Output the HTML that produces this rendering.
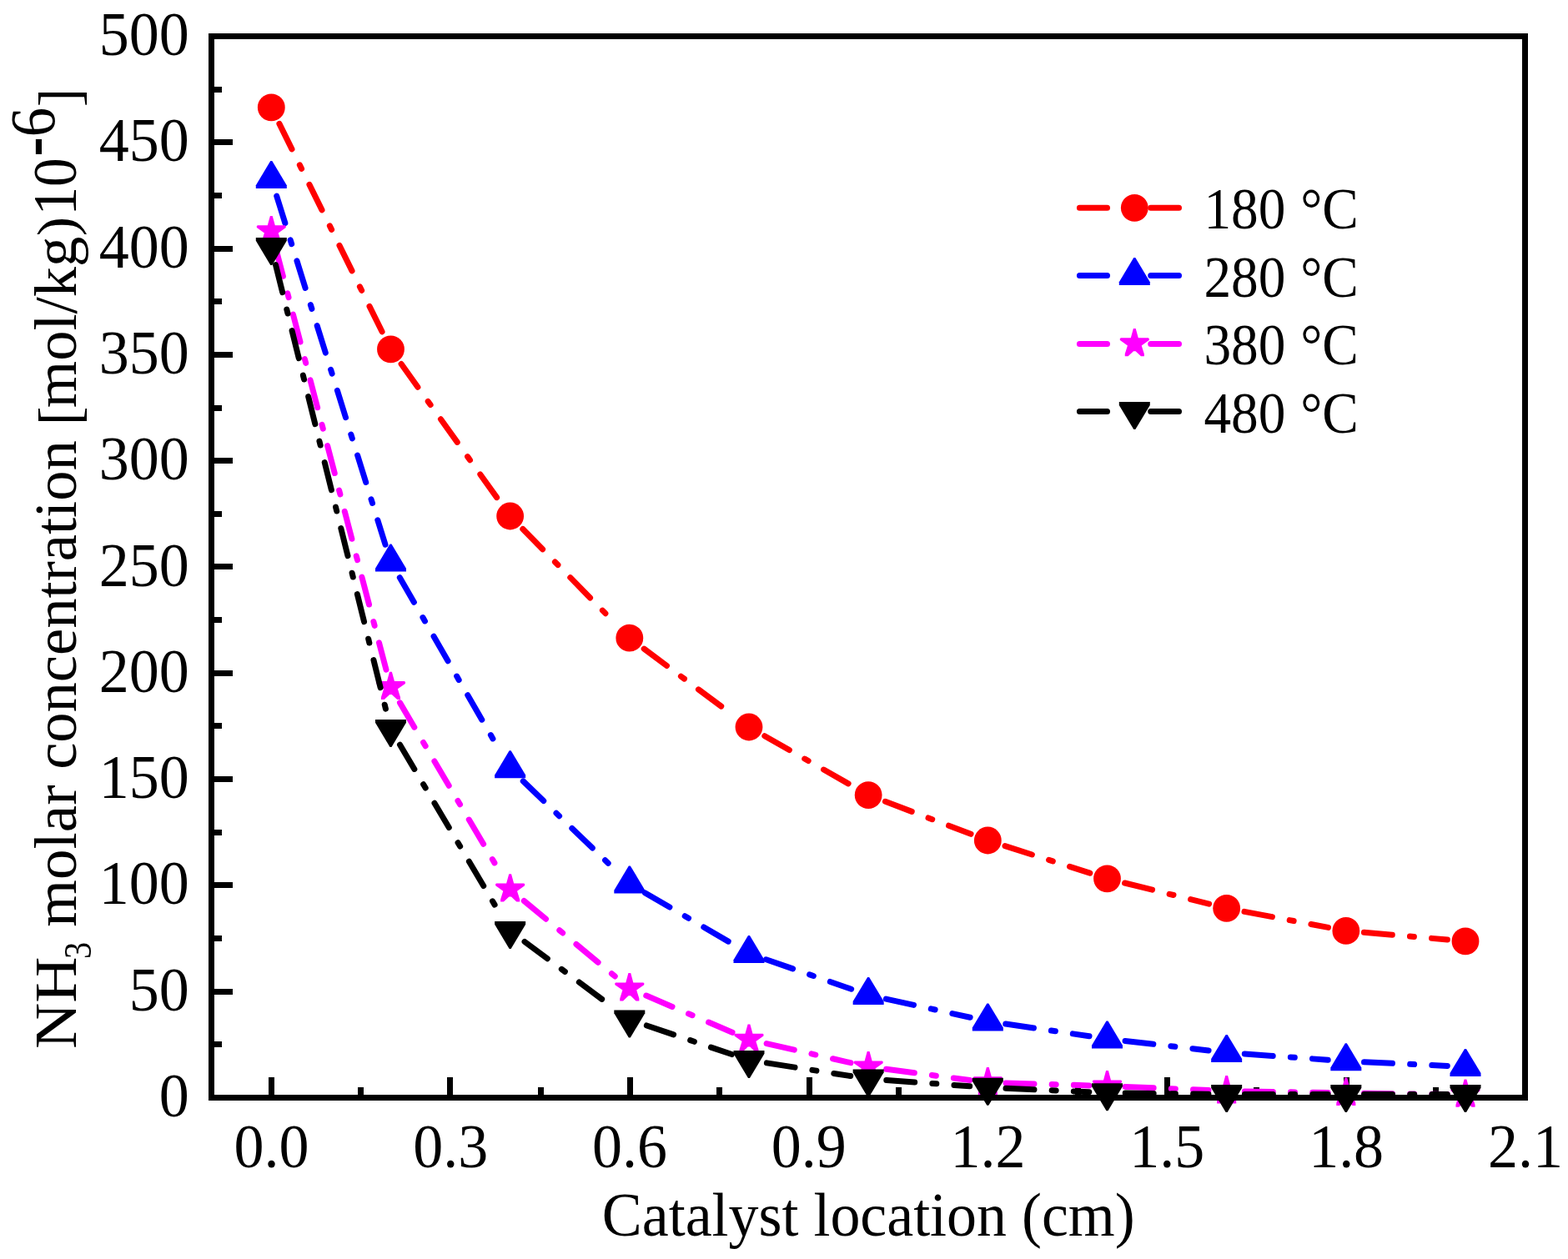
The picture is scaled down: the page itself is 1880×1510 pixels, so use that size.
<!DOCTYPE html>
<html lang="en"><head><meta charset="utf-8"><title>NH3 molar concentration vs catalyst location</title>
<style>
html,body{margin:0;padding:0;background:#fff;}
body{width:1880px;height:1510px;overflow:hidden;}
svg{display:block;}
text{font-family:"Liberation Serif","Times New Roman",serif;fill:#000;font-kerning:none;white-space:pre;}
.ln{fill:none;stroke-width:7;stroke-linecap:round;stroke-dasharray:34 21.2 5 21.2;}
.ax{stroke:#000;stroke-width:7;fill:none;shape-rendering:crispEdges;}
</style></head><body>
<svg width="1880" height="1510" viewBox="0 0 1880 1510">
<rect width="1880" height="1510" fill="#fff"/>

<path class="ax" d="M253.5 1252.5h12.5M253.5 1189.5h25.5M253.5 1125.5h12.5M253.5 1061.5h25.5M253.5 998.5h12.5M253.5 934.5h25.5M253.5 870.5h12.5M253.5 807.5h25.5M253.5 743.5h12.5M253.5 679.5h25.5M253.5 616.5h12.5M253.5 552.5h25.5M253.5 489.5h12.5M253.5 425.5h25.5M253.5 361.5h12.5M253.5 298.5h25.5M253.5 234.5h12.5M253.5 170.5h25.5M253.5 107.5h12.5M325.5 1316.5v-24.5M432.5 1316.5v-12.5M539.5 1316.5v-24.5M648.5 1316.5v-12.5M755.5 1316.5v-24.5M862.5 1316.5v-12.5M970.5 1316.5v-24.5M1077.5 1316.5v-12.5M1184.5 1316.5v-24.5M1292.5 1316.5v-12.5M1399.5 1316.5v-24.5M1506.5 1316.5v-12.5M1614.5 1316.5v-24.5M1721.5 1316.5v-12.5"/>
<g>
<line class="ln" stroke="#ff0000" x1="334.91" y1="148.36" x2="458.86" y2="399.44"/>
<line class="ln" stroke="#ff0000" x1="481.1" y1="436.55" x2="599.01" y2="601.35"/>
<line class="ln" stroke="#ff0000" x1="626.82" y1="634.5" x2="739.63" y2="749.7"/>
<line class="ln" stroke="#ff0000" x1="772.2" y1="778.18" x2="880.59" y2="859.02"/>
<line class="ln" stroke="#ff0000" x1="916.83" y1="882.75" x2="1022.3" y2="942.85"/>
<line class="ln" stroke="#ff0000" x1="1061.44" y1="961.31" x2="1164.03" y2="1000.29"/>
<line class="ln" stroke="#ff0000" x1="1204.99" y1="1014.61" x2="1306.82" y2="1047.19"/>
<line class="ln" stroke="#ff0000" x1="1348.55" y1="1059.02" x2="1449.6" y2="1084.08"/>
<line class="ln" stroke="#ff0000" x1="1491.98" y1="1093.34" x2="1592.51" y2="1112.36"/>
<line class="ln" stroke="#ff0000" x1="1635.45" y1="1118.29" x2="1735.38" y2="1127.01"/>
<circle cx="325.3" cy="128.9" r="16.4" fill="#ff0000"/>
<circle cx="468.47" cy="418.9" r="16.4" fill="#ff0000"/>
<circle cx="611.64" cy="619" r="16.4" fill="#ff0000"/>
<circle cx="754.81" cy="765.2" r="16.4" fill="#ff0000"/>
<circle cx="897.98" cy="872" r="16.4" fill="#ff0000"/>
<circle cx="1041.15" cy="953.6" r="16.4" fill="#ff0000"/>
<circle cx="1184.32" cy="1008" r="16.4" fill="#ff0000"/>
<circle cx="1327.49" cy="1053.8" r="16.4" fill="#ff0000"/>
<circle cx="1470.66" cy="1089.3" r="16.4" fill="#ff0000"/>
<circle cx="1613.83" cy="1116.4" r="16.4" fill="#ff0000"/>
<circle cx="1757" cy="1128.9" r="16.4" fill="#ff0000"/>
</g>
<g>
<line class="ln" stroke="#0000ff" x1="331.75" y1="235.17" x2="462.02" y2="653.28"/>
<line class="ln" stroke="#0000ff" x1="479.33" y1="692.79" x2="600.78" y2="903.01"/>
<line class="ln" stroke="#0000ff" x1="627.26" y1="936.87" x2="739.19" y2="1044.88"/>
<line class="ln" stroke="#0000ff" x1="773.55" y1="1070.9" x2="879.24" y2="1132.65"/>
<line class="ln" stroke="#0000ff" x1="918.48" y1="1150.73" x2="1020.65" y2="1186.27"/>
<line class="ln" stroke="#0000ff" x1="1062.34" y1="1198.06" x2="1163.13" y2="1220.24"/>
<line class="ln" stroke="#0000ff" x1="1205.79" y1="1228.06" x2="1306.02" y2="1242.79"/>
<line class="ln" stroke="#0000ff" x1="1349.05" y1="1248.43" x2="1449.1" y2="1259.92"/>
<line class="ln" stroke="#0000ff" x1="1492.3" y1="1263.97" x2="1592.19" y2="1271.23"/>
<line class="ln" stroke="#0000ff" x1="1635.51" y1="1273.8" x2="1735.32" y2="1278.4"/>
<polygon points="324.3,192.95 326.3,192.95 343.8,222.15 343.8,225.95 306.8,225.95 306.8,222.15" fill="#0000ff"/>
<polygon points="467.47,652.5 469.47,652.5 486.97,681.7 486.97,685.5 449.97,685.5 449.97,681.7" fill="#0000ff"/>
<polygon points="610.64,900.3 612.64,900.3 630.14,929.5 630.14,933.3 593.14,933.3 593.14,929.5" fill="#0000ff"/>
<polygon points="753.81,1038.45 755.81,1038.45 773.31,1067.65 773.31,1071.45 736.31,1071.45 736.31,1067.65" fill="#0000ff"/>
<polygon points="896.98,1122.1 898.98,1122.1 916.48,1151.3 916.48,1155.1 879.48,1155.1 879.48,1151.3" fill="#0000ff"/>
<polygon points="1040.15,1171.9 1042.15,1171.9 1059.65,1201.1 1059.65,1204.9 1022.65,1204.9 1022.65,1201.1" fill="#0000ff"/>
<polygon points="1183.32,1203.4 1185.32,1203.4 1202.82,1232.6 1202.82,1236.4 1165.82,1236.4 1165.82,1232.6" fill="#0000ff"/>
<polygon points="1326.49,1224.45 1328.49,1224.45 1345.99,1253.65 1345.99,1257.45 1308.99,1257.45 1308.99,1253.65" fill="#0000ff"/>
<polygon points="1469.66,1240.9 1471.66,1240.9 1489.16,1270.1 1489.16,1273.9 1452.16,1273.9 1452.16,1270.1" fill="#0000ff"/>
<polygon points="1612.83,1251.3 1614.83,1251.3 1632.33,1280.5 1632.33,1284.3 1595.33,1284.3 1595.33,1280.5" fill="#0000ff"/>
<polygon points="1756,1257.9 1758,1257.9 1775.5,1287.1 1775.5,1290.9 1738.5,1290.9 1738.5,1287.1" fill="#0000ff"/>
</g>
<g>
<line class="ln" stroke="#ff00ff" x1="330.8" y1="298.39" x2="462.97" y2="803.21"/>
<line class="ln" stroke="#ff00ff" x1="479.51" y1="842.88" x2="600.6" y2="1047.92"/>
<line class="ln" stroke="#ff00ff" x1="628.33" y1="1080.46" x2="738.12" y2="1171.64"/>
<line class="ln" stroke="#ff00ff" x1="774.76" y1="1194.04" x2="878.03" y2="1238.26"/>
<line class="ln" stroke="#ff00ff" x1="919.14" y1="1251.63" x2="1019.99" y2="1274.67"/>
<line class="ln" stroke="#ff00ff" x1="1062.66" y1="1282.34" x2="1162.81" y2="1295.56"/>
<line class="ln" stroke="#ff00ff" x1="1206.01" y1="1299.02" x2="1305.8" y2="1301.88"/>
<line class="ln" stroke="#ff00ff" x1="1349.17" y1="1303.41" x2="1448.98" y2="1307.59"/>
<line class="ln" stroke="#ff00ff" x1="1492.36" y1="1308.88" x2="1592.13" y2="1310.62"/>
<line class="ln" stroke="#ff00ff" x1="1635.53" y1="1311.27" x2="1735.3" y2="1312.53"/>
<polygon points="326.7,259 329.8,270.3 341.9,270.3 342.9,271.4 342.7,273.1 333.7,279.5 336.85,289.5 336.85,292.3 333,292.3 326.6,286.2 324,286.2 317.6,292.3 313.75,292.3 313.75,289.5 316.9,279.5 307.9,273.1 307.7,271.4 308.7,270.3 320.8,270.3 323.9,259" fill="#ff00ff"/>
<polygon points="469.87,805.8 472.97,817.1 485.07,817.1 486.07,818.2 485.87,819.9 476.87,826.3 480.02,836.3 480.02,839.1 476.17,839.1 469.77,833 467.17,833 460.77,839.1 456.92,839.1 456.92,836.3 460.07,826.3 451.07,819.9 450.87,818.2 451.87,817.1 463.97,817.1 467.07,805.8" fill="#ff00ff"/>
<polygon points="613.04,1048.2 616.14,1059.5 628.24,1059.5 629.24,1060.6 629.04,1062.3 620.04,1068.7 623.19,1078.7 623.19,1081.5 619.34,1081.5 612.94,1075.4 610.34,1075.4 603.94,1081.5 600.09,1081.5 600.09,1078.7 603.24,1068.7 594.24,1062.3 594.04,1060.6 595.04,1059.5 607.14,1059.5 610.24,1048.2" fill="#ff00ff"/>
<polygon points="756.21,1167.1 759.31,1178.4 771.41,1178.4 772.41,1179.5 772.21,1181.2 763.21,1187.6 766.36,1197.6 766.36,1200.4 762.51,1200.4 756.11,1194.3 753.51,1194.3 747.11,1200.4 743.26,1200.4 743.26,1197.6 746.41,1187.6 737.41,1181.2 737.21,1179.5 738.21,1178.4 750.31,1178.4 753.41,1167.1" fill="#ff00ff"/>
<polygon points="899.38,1228.4 902.48,1239.7 914.58,1239.7 915.58,1240.8 915.38,1242.5 906.38,1248.9 909.53,1258.9 909.53,1261.7 905.68,1261.7 899.28,1255.6 896.68,1255.6 890.28,1261.7 886.43,1261.7 886.43,1258.9 889.58,1248.9 880.58,1242.5 880.38,1240.8 881.38,1239.7 893.48,1239.7 896.58,1228.4" fill="#ff00ff"/>
<polygon points="1042.55,1261.1 1045.65,1272.4 1057.75,1272.4 1058.75,1273.5 1058.55,1275.2 1049.55,1281.6 1052.7,1291.6 1052.7,1294.4 1048.85,1294.4 1042.45,1288.3 1039.85,1288.3 1033.45,1294.4 1029.6,1294.4 1029.6,1291.6 1032.75,1281.6 1023.75,1275.2 1023.55,1273.5 1024.55,1272.4 1036.65,1272.4 1039.75,1261.1" fill="#ff00ff"/>
<polygon points="1185.72,1280 1188.82,1291.3 1200.92,1291.3 1201.92,1292.4 1201.72,1294.1 1192.72,1300.5 1195.87,1310.5 1195.87,1313.3 1192.02,1313.3 1185.62,1307.2 1183.02,1307.2 1176.62,1313.3 1172.77,1313.3 1172.77,1310.5 1175.92,1300.5 1166.92,1294.1 1166.72,1292.4 1167.72,1291.3 1179.82,1291.3 1182.92,1280" fill="#ff00ff"/>
<polygon points="1328.89,1284.1 1331.99,1295.4 1344.09,1295.4 1345.09,1296.5 1344.89,1298.2 1335.89,1304.6 1339.04,1314.6 1339.04,1317.4 1335.19,1317.4 1328.79,1311.3 1326.19,1311.3 1319.79,1317.4 1315.94,1317.4 1315.94,1314.6 1319.09,1304.6 1310.09,1298.2 1309.89,1296.5 1310.89,1295.4 1322.99,1295.4 1326.09,1284.1" fill="#ff00ff"/>
<polygon points="1472.06,1290.1 1475.16,1301.4 1487.26,1301.4 1488.26,1302.5 1488.06,1304.2 1479.06,1310.6 1482.21,1320.6 1482.21,1323.4 1478.36,1323.4 1471.96,1317.3 1469.36,1317.3 1462.96,1323.4 1459.11,1323.4 1459.11,1320.6 1462.26,1310.6 1453.26,1304.2 1453.06,1302.5 1454.06,1301.4 1466.16,1301.4 1469.26,1290.1" fill="#ff00ff"/>
<polygon points="1615.23,1292.6 1618.33,1303.9 1630.43,1303.9 1631.43,1305 1631.23,1306.7 1622.23,1313.1 1625.38,1323.1 1625.38,1325.9 1621.53,1325.9 1615.13,1319.8 1612.53,1319.8 1606.13,1325.9 1602.28,1325.9 1602.28,1323.1 1605.43,1313.1 1596.43,1306.7 1596.23,1305 1597.23,1303.9 1609.33,1303.9 1612.43,1292.6" fill="#ff00ff"/>
<polygon points="1758.4,1294.4 1761.5,1305.7 1773.6,1305.7 1774.6,1306.8 1774.4,1308.5 1765.4,1314.9 1768.55,1324.9 1768.55,1327.7 1764.7,1327.7 1758.3,1321.6 1755.7,1321.6 1749.3,1327.7 1745.45,1327.7 1745.45,1324.9 1748.6,1314.9 1739.6,1308.5 1739.4,1306.8 1740.4,1305.7 1752.5,1305.7 1755.6,1294.4" fill="#ff00ff"/>
</g>
<g>
<line class="ln" stroke="#000000" x1="330.52" y1="317.56" x2="463.25" y2="853.44"/>
<line class="ln" stroke="#000000" x1="479.52" y1="893.18" x2="600.59" y2="1097.82"/>
<line class="ln" stroke="#000000" x1="629.05" y1="1129.45" x2="737.4" y2="1210.05"/>
<line class="ln" stroke="#000000" x1="775.36" y1="1229.96" x2="877.43" y2="1264.54"/>
<line class="ln" stroke="#000000" x1="919.42" y1="1274.85" x2="1019.71" y2="1290.55"/>
<line class="ln" stroke="#000000" x1="1062.79" y1="1295.48" x2="1162.68" y2="1302.77"/>
<line class="ln" stroke="#000000" x1="1206" y1="1305.3" x2="1305.81" y2="1309.7"/>
<line class="ln" stroke="#000000" x1="1349.19" y1="1310.94" x2="1448.96" y2="1312.26"/>
<line class="ln" stroke="#000000" x1="1492.36" y1="1312.55" x2="1592.13" y2="1312.55"/>
<line class="ln" stroke="#000000" x1="1635.53" y1="1312.55" x2="1735.3" y2="1312.55"/>
<polygon points="324.3,318 326.3,318 343.8,288.8 343.8,285 306.8,285 306.8,288.8" fill="#000000"/>
<polygon points="467.47,896 469.47,896 486.97,866.8 486.97,863 449.97,863 449.97,866.8" fill="#000000"/>
<polygon points="610.64,1138 612.64,1138 630.14,1108.8 630.14,1105 593.14,1105 593.14,1108.8" fill="#000000"/>
<polygon points="753.81,1244.5 755.81,1244.5 773.31,1215.3 773.31,1211.5 736.31,1211.5 736.31,1215.3" fill="#000000"/>
<polygon points="896.98,1293 898.98,1293 916.48,1263.8 916.48,1260 879.48,1260 879.48,1263.8" fill="#000000"/>
<polygon points="1040.15,1315.4 1042.15,1315.4 1059.65,1286.2 1059.65,1282.4 1022.65,1282.4 1022.65,1286.2" fill="#000000"/>
<polygon points="1183.32,1325.85 1185.32,1325.85 1202.82,1296.65 1202.82,1292.85 1165.82,1292.85 1165.82,1296.65" fill="#000000"/>
<polygon points="1326.49,1332.15 1328.49,1332.15 1345.99,1302.95 1345.99,1299.15 1308.99,1299.15 1308.99,1302.95" fill="#000000"/>
<polygon points="1469.66,1334.05 1471.66,1334.05 1489.16,1304.85 1489.16,1301.05 1452.16,1301.05 1452.16,1304.85" fill="#000000"/>
<polygon points="1612.83,1334.05 1614.83,1334.05 1632.33,1304.85 1632.33,1301.05 1595.33,1301.05 1595.33,1304.85" fill="#000000"/>
<polygon points="1756,1334.05 1758,1334.05 1775.5,1304.85 1775.5,1301.05 1738.5,1301.05 1738.5,1304.85" fill="#000000"/>
</g>
<rect class="ax" x="253.5" y="43.5" width="1575" height="1273"/>
<g>
<text transform="translate(226.8 1339) scale(1 1.042)" font-size="72" text-anchor="end">0</text>
<text transform="translate(226.8 1211.7) scale(1 1.042)" font-size="72" text-anchor="end">50</text>
<text transform="translate(226.8 1084.4) scale(1 1.042)" font-size="72" text-anchor="end">100</text>
<text transform="translate(226.8 957.1) scale(1 1.042)" font-size="72" text-anchor="end">150</text>
<text transform="translate(226.8 829.8) scale(1 1.042)" font-size="72" text-anchor="end">200</text>
<text transform="translate(226.8 702.5) scale(1 1.042)" font-size="72" text-anchor="end">250</text>
<text transform="translate(226.8 575.2) scale(1 1.042)" font-size="72" text-anchor="end">300</text>
<text transform="translate(226.8 447.9) scale(1 1.042)" font-size="72" text-anchor="end">350</text>
<text transform="translate(226.8 320.6) scale(1 1.042)" font-size="72" text-anchor="end">400</text>
<text transform="translate(226.8 193.3) scale(1 1.042)" font-size="72" text-anchor="end">450</text>
<text transform="translate(226.8 66) scale(1 1.042)" font-size="72" text-anchor="end">500</text>
</g><g>
<text transform="translate(325.49 1400) scale(1 1.042)" font-size="72" text-anchor="middle">0.0</text>
<text transform="translate(540.26 1400) scale(1 1.042)" font-size="72" text-anchor="middle">0.3</text>
<text transform="translate(755.04 1400) scale(1 1.042)" font-size="72" text-anchor="middle">0.6</text>
<text transform="translate(969.81 1400) scale(1 1.042)" font-size="72" text-anchor="middle">0.9</text>
<text transform="translate(1184.58 1400) scale(1 1.042)" font-size="72" text-anchor="middle">1.2</text>
<text transform="translate(1399.35 1400) scale(1 1.042)" font-size="72" text-anchor="middle">1.5</text>
<text transform="translate(1614.13 1400) scale(1 1.042)" font-size="72" text-anchor="middle">1.8</text>
<text transform="translate(1828.9 1400) scale(1 1.042)" font-size="72" text-anchor="middle">2.1</text>
</g>
<text transform="translate(721.85 1482.2) scale(1 1.02)" font-size="71.9">Catalyst location (cm)</text>
<g>
<text transform="translate(91.4 1258.1) rotate(-90) scale(1.0514 1)" font-size="72.8">NH</text>
<text transform="translate(108.9 1149.93) rotate(-90) scale(0.8827 1)" font-size="45.8">3</text>
<text transform="translate(91.4 1111.73) rotate(-90) scale(1.0022 1)" font-size="72.8">molar</text>
<text transform="translate(91.4 922.86) rotate(-90) scale(0.9962 1)" font-size="72.8">concentration</text>
<text transform="translate(94.9 510) rotate(-90) scale(0.9254 0.962)" font-size="72.8">[</text>
<text transform="translate(91.4 489.22) rotate(-90) scale(0.9967 1)" font-size="72.8">mol/kg</text>
<text transform="translate(90.3 283.15) rotate(-90) scale(0.9573 0.91)" font-size="72.8">)</text>
<text transform="translate(91.4 258.59) rotate(-90) scale(0.9524 1.02)" font-size="72.8">10</text>
<text transform="translate(68.8 187.57) rotate(-90) scale(0.9518 1.3)" font-size="72.8">-</text>
<text transform="translate(64.8 164.14) rotate(-90) scale(0.971 1.035)" font-size="72.8">6</text>
<text transform="translate(94.9 128.32) rotate(-90) scale(0.9192 0.962)" font-size="72.8">]</text>
</g>
<g>
<circle cx="1360.3" cy="249.3" r="16.4" fill="#ff0000"/>
<path d="M1294.4 249.3h33.1M1379.7 249.3h33.8" stroke="#ff0000" stroke-width="7" stroke-linecap="round" fill="none"/>
<text transform="translate(1443.45 273.85) scale(1 1.065)" font-size="65.3" word-spacing="1.5">180 °C</text>
</g>
<g>
<polygon points="1359.3,309 1361.3,309 1378.8,338.2 1378.8,342 1341.8,342 1341.8,338.2" fill="#0000ff"/>
<path d="M1294.4 330.5h33.1M1379.7 330.5h33.8" stroke="#0000ff" stroke-width="7" stroke-linecap="round" fill="none"/>
<text transform="translate(1443.45 355.6) scale(1 1.065)" font-size="65.3" word-spacing="1.5">280 °C</text>
</g>
<g>
<polygon points="1361.7,394 1364.8,405.3 1376.9,405.3 1377.9,406.4 1377.7,408.1 1368.7,414.5 1371.85,424.5 1371.85,427.3 1368,427.3 1361.6,421.2 1359,421.2 1352.6,427.3 1348.75,427.3 1348.75,424.5 1351.9,414.5 1342.9,408.1 1342.7,406.4 1343.7,405.3 1355.8,405.3 1358.9,394" fill="#ff00ff"/>
<path d="M1294.4 412.4h33.1M1379.7 412.4h33.8" stroke="#ff00ff" stroke-width="7" stroke-linecap="round" fill="none"/>
<text transform="translate(1443.45 436.8) scale(1 1.065)" font-size="65.3" word-spacing="1.5">380 °C</text>
</g>
<g>
<polygon points="1359.3,515.1 1361.3,515.1 1378.8,485.9 1378.8,482.1 1341.8,482.1 1341.8,485.9" fill="#000000"/>
<path d="M1294.4 493.6h33.1M1379.7 493.6h33.8" stroke="#000000" stroke-width="7" stroke-linecap="round" fill="none"/>
<text transform="translate(1443.45 518.5) scale(1 1.065)" font-size="65.3" word-spacing="1.5">480 °C</text>
</g>
</svg></body></html>
